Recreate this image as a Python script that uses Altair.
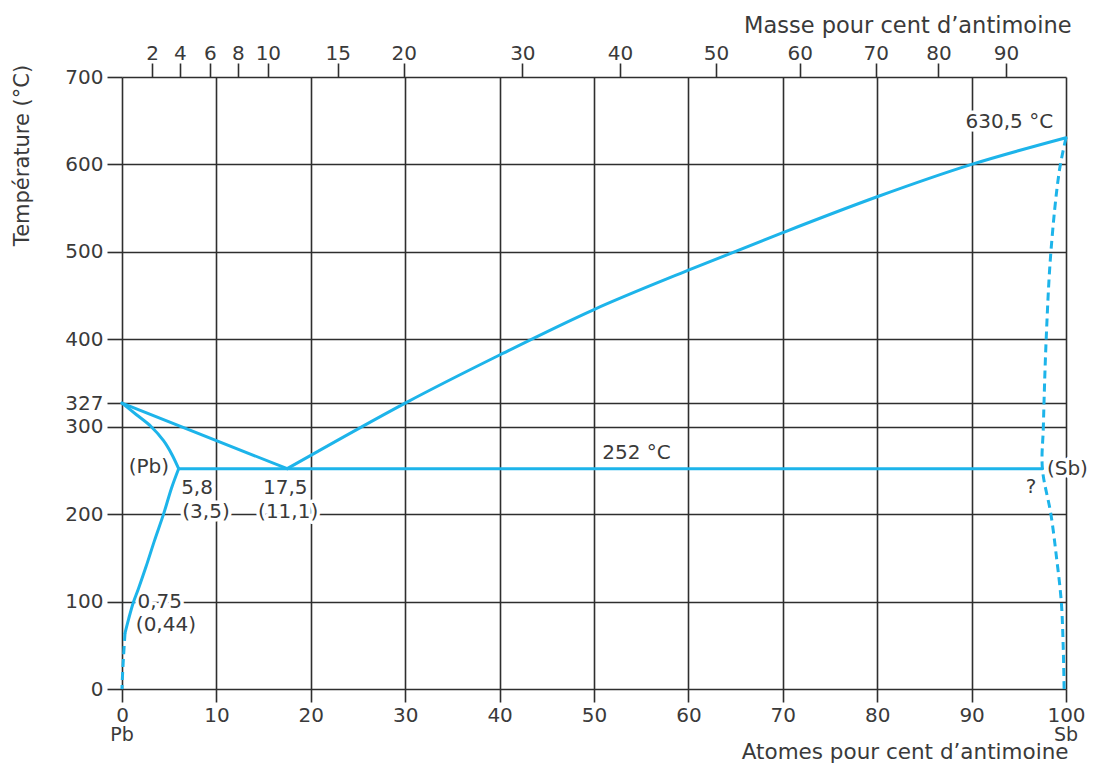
import altair as alt
import pandas as pd

# ---------------- data (atomic % Sb, temperature °C) ----------------
liq_left_at = [0, 17.5]
liq_left_T = [327, 252]
liq_right_at = [17.5, 30, 40, 50, 60, 70, 80, 90, 100]
liq_right_T = [252, 327, 382, 434, 479, 522, 563, 600, 630.5]
sol_pb_at = [0, 1.5, 3.1, 4.4, 5.3, 6.0]
sol_pb_T = [327, 314, 300, 284, 268, 252]
solvus_pb_at = [6.0, 5.25, 4.4, 3.45, 2.55, 1.75, 1.2, 0.7, 0.32]
solvus_pb_T = [252, 230, 200, 170, 140, 115, 99, 80, 64]
eut_at = [6.0, 97.5]
eut_T = [252, 252]

solvus_pb_dash_at = [0.32, 0.15, 0.03, 0]
solvus_pb_dash_T = [64, 35, 10, 0]
sb_at = [100, 99.3, 98.4, 97.9, 97.6, 97.5, 98.4, 99.0, 99.5, 99.7, 99.8]
sb_T = [630.5, 593, 500, 400, 300, 252, 200, 150, 100, 50, 0]

# axes
at_ticks = [0, 10, 20, 30, 40, 50, 60, 70, 80, 90, 100]
t_ticks = [0, 100, 200, 300, 327, 400, 500, 600, 700]
mass_labels = ["2", "4", "6", "8", "10", "15", "20", "30", "40", "50", "60", "70", "80", "90"]
mass_pos = [3.18, 6.14, 9.32, 12.28, 15.45, 22.86, 29.85, 42.41, 52.75, 62.91, 71.80, 79.84, 86.48, 93.65]

# annotations
ann_text = ["630,5 °C", "252 °C", "(Pb)", "5,8", "(3,5)", "17,5", "(11,1)", "0,75", "(0,44)", "(Sb)", "?"]
ann_at = [94.0, 54.5, 2.85, 7.95, 8.9, 17.3, 17.6, 4.0, 4.65, 100.15, 96.3]
ann_T = [648.7, 270.4, 254.4, 229.7, 203, 229.7, 203, 99, 73.5, 251.4, 231.5]

end_text = ["Pb", "Sb"]
end_at = [0, 100]

# ---------------- tables ----------------
def curve_rows(name, xs, ts):
    return [{"curve": name, "ord": i, "at": x, "T": t} for i, (x, t) in enumerate(zip(xs, ts))]

solid = pd.DataFrame(
    curve_rows("liq_left", liq_left_at, liq_left_T)
    + curve_rows("liq_right", liq_right_at, liq_right_T)
    + curve_rows("sol_pb", sol_pb_at, sol_pb_T)
    + curve_rows("solvus_pb", solvus_pb_at, solvus_pb_T)
    + curve_rows("eut", eut_at, eut_T)
)
dashed = pd.DataFrame(
    curve_rows("solvus_pb_dash", solvus_pb_dash_at, solvus_pb_dash_T)
    + curve_rows("sb", sb_at, sb_T)
)
ann = pd.DataFrame({"text": ann_text, "at": ann_at, "T": ann_T})
ends = pd.DataFrame({"text": end_text, "at": end_at})
mass = pd.DataFrame({"pos": mass_pos, "label": mass_labels})

# ---------------- style ----------------
GRID = "#2e2e2e"
TXT = "#3a3a3a"
CYAN = "#1db4ea"
FONT = "DejaVu Sans"
W, H = 944, 612

xscale = alt.Scale(domain=[0, 100], nice=False, zero=False)
yscale = alt.Scale(domain=[0, 700], nice=False, zero=False)

common_axis = dict(
    domain=False, tickColor=GRID, tickWidth=1.6, labelFont=FONT, labelFontSize=20,
    labelColor=TXT, labelOverlap=False, labelFlush=False, titleFont=FONT,
    titleFontWeight="normal", titleColor=TXT, titleBaseline="middle",
)

bottom_axis = alt.Axis(
    values=at_ticks, grid=True, gridColor=GRID, gridWidth=1.6, gridOpacity=1,
    tickSize=13, labelPadding=3, title="Atomes pour cent d’antimoine",
    titleFontSize=21.5, titleX=W + 2, titleY=63, titleAlign="right", **common_axis,
)
left_axis = alt.Axis(
    values=t_ticks, grid=True, gridColor=GRID, gridWidth=1.6, gridOpacity=1,
    tickSize=15, labelPadding=4, title="Température (°C)", titleFontSize=21,
    titleAngle=270, titleX=-100, titleY=78, titleAlign="center", **common_axis,
)
label_expr = "[" + ",".join("'%s'" % l for l in mass_labels) + "][indexof([" + \
    ",".join(str(p) for p in mass_pos) + "], datum.value)]"
top_axis = alt.Axis(
    orient="top", values=mass_pos, labelExpr=label_expr, grid=False, tickSize=14,
    labelPadding=0, title="Masse pour cent d’antimoine", titleFontSize=22.5,
    titleX=W + 5, titleY=-52, titleAlign="right", **common_axis,
)

solid_layer = alt.Chart(solid).mark_line(
    color=CYAN, strokeWidth=3, interpolate="catmull-rom", strokeCap="round"
).encode(
    x=alt.X("at:Q", scale=xscale, axis=bottom_axis),
    y=alt.Y("T:Q", scale=yscale, axis=left_axis),
    detail="curve:N",
    order="ord:Q",
)

dashed_layer = alt.Chart(dashed).mark_line(
    color=CYAN, strokeWidth=3, strokeDash=[8, 5], interpolate="catmull-rom"
).encode(
    x=alt.X("at:Q", scale=xscale, axis=None),
    y=alt.Y("T:Q", scale=yscale, axis=None),
    detail="curve:N",
    order="ord:Q",
)

halo = alt.Chart(ann).mark_text(
    font=FONT, fontSize=20, color="white", stroke="white", strokeWidth=7,
    strokeJoin="round", align="center", baseline="middle",
).encode(
    x=alt.X("at:Q", scale=xscale, axis=None),
    y=alt.Y("T:Q", scale=yscale, axis=None),
    text="text:N",
)

labels = alt.Chart(ann).mark_text(
    font=FONT, fontSize=20, color=TXT, align="center", baseline="middle",
).encode(
    x=alt.X("at:Q", scale=xscale, axis=None),
    y=alt.Y("T:Q", scale=yscale, axis=None),
    text="text:N",
)

end_labels = alt.Chart(ends).mark_text(
    font=FONT, fontSize=19, color=TXT, align="center", baseline="middle",
).encode(
    x=alt.X("at:Q", scale=xscale, axis=None),
    y=alt.value(H + 46),
    text="text:N",
)

top_layer = alt.Chart(mass).mark_point(opacity=0).encode(
    x=alt.X("pos:Q", scale=xscale, axis=top_axis),
    y=alt.value(0),
)

chart = alt.layer(
    halo, solid_layer, dashed_layer, labels, end_labels, top_layer
).resolve_axis(
    x="independent", y="independent"
).properties(
    width=W, height=H,
    autosize=alt.AutoSizeParams(type="none"),
    padding={"left": 114, "top": 69, "right": 23, "bottom": 75},
    background="white",
).configure_view(strokeWidth=0)

chart.save("out.html", embed_options={"renderer": "svg", "actions": False})
